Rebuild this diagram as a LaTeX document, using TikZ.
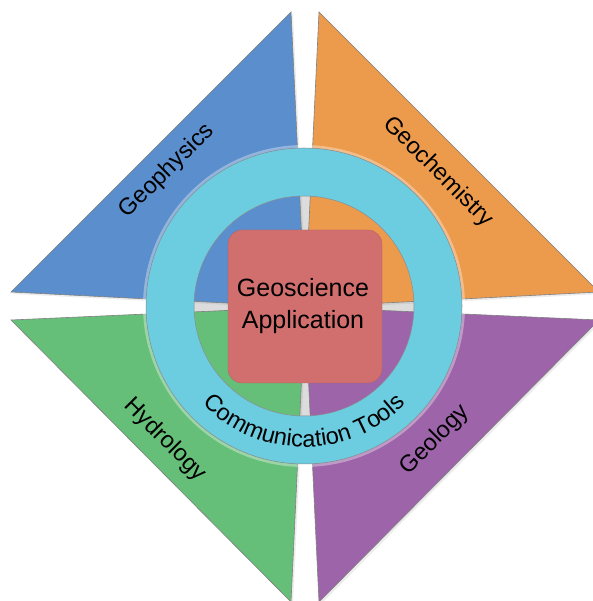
\documentclass[tikz,border=0pt]{standalone}
\usepackage{fontspec}
\setmainfont{Liberation Sans}
\usetikzlibrary{shadows,decorations.text}
\definecolor{cblue}{HTML}{5A8ECC}
\definecolor{corange}{HTML}{EC9B4D}
\definecolor{cgreen}{HTML}{66BF78}
\definecolor{cpurple}{HTML}{9D64A9}
\definecolor{cring}{HTML}{6CCCE0}
\definecolor{csquare}{HTML}{D16F6F}
\definecolor{cgap}{HTML}{DCDCDC}
\begin{document}
\begin{tikzpicture}[x=1pt,y=1pt,
  tri/.style={draw=black!50,line width=0.6pt,line join=miter,
    drop shadow={opacity=0.15,shadow xshift=2pt,shadow yshift=-2pt}},
  lbl/.style={font=\fontsize{23.5}{23.5}\selectfont,text=black,inner sep=0pt}]
\useasboundingbox (0,0) rectangle (592,601);
\fill[white] (0,0) rectangle (592,601);
\coordinate (C) at (305,294);
\coordinate (R) at (304,295);
% grey disc behind the gaps inside the ring
\fill[cgap] (R) circle (111pt);
% four triangles
\path[tri,fill=cblue] (11,309) -- (291,589) -- (C) -- cycle;
\path[tri,fill=corange] (319,589) -- (599,309) -- (C) -- cycle;
\path[tri,fill=cgreen] (11,281) -- (291,-1) -- (C) -- cycle;
\path[tri,fill=cpurple] (599,281) -- (319,-1) -- (C) -- cycle;
% soft glow around the ring
\draw[white,opacity=0.35,line width=3pt] (R) circle (159.5pt);
% ring
\path[fill=cring,draw=black!45,line width=0.5pt,even odd rule]
  (R) circle (158pt) (R) circle (110pt);
% centre square
\node[fill=csquare,draw=csquare!85!black,line width=0.3pt,rounded corners=14pt,
  minimum width=154pt,minimum height=153pt,inner sep=0pt] (app) at (305,294.5) {};
\node[align=center,font=\fontsize{25}{32}\selectfont,inner sep=0pt] (apptext) at (303,295)
  {Geoscience\\Application};
% labels
\node[lbl,rotate=45] (geophys) at (167,430) {Geophysics};
\node[lbl,rotate=-45] (geochem) at (438,429) {Geochemistry};
\node[lbl,rotate=-45] (hydro) at (165,161) {Hydrology};
\node[lbl,rotate=45] (geol) at (435,161) {Geology};
% communication tools along the ring
\path[decorate,decoration={text along path,text align=center,
  text format delimiters={|}{|},
  text={|\fontsize{23.5}{23.5}\selectfont|Communication Tools}}]
  (R) ++(198:141pt) arc (198:342:141pt);
\end{tikzpicture}
\end{document}
